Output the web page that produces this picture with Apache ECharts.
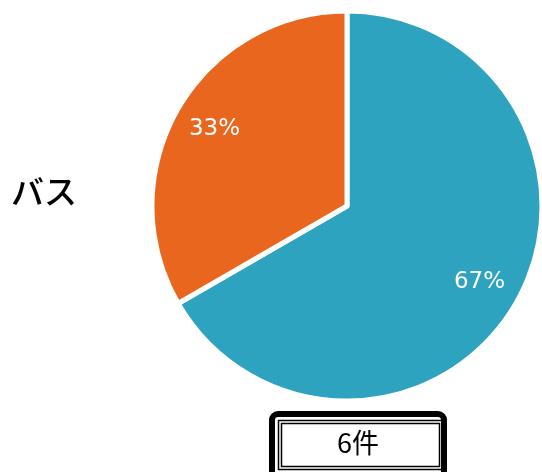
<!DOCTYPE html>
<html>
<head>
<meta charset="utf-8">
<script src="https://cdn.jsdelivr.net/npm/echarts@6/dist/echarts.min.js"></script>
<style>
  html, body { margin: 0; padding: 0; background: #ffffff; }
  #chart { width: 542px; height: 472px; }
</style>
</head>
<body>
<div id="chart"></div>
<script>
  // データ
  var categories = ['バス利用', 'その他'];
  var values = [4, 2];
  var colors = ['#2da3c0', '#e9661e'];
  var rowLabel = 'バス';
  var totalText = '6件';

  var myChart = echarts.init(document.getElementById('chart'));

  var pieData = categories.map(function (name, i) {
    return {name: name, value: values[i], itemStyle: {color: colors[i]}};
  });

  // ラベル用（色なし）
  var labelData = categories.map(function (name, i) {
    return {name: name, value: values[i]};
  });

  var option = {
    animation: false,
    backgroundColor: '#ffffff',
    title: {
      text: rowLabel,
      left: 6,
      top: 170,
      textStyle: {
        fontFamily: 'Noto Sans CJK JP',
        fontSize: 33,
        fontWeight: 500,
        color: '#000000'
      }
    },
    series: [{
      type: 'pie',
      center: [347, 206],
      radius: [0, 195],
      startAngle: 90,
      clockwise: true,
      label: {show: false},
      labelLine: {show: false},
      itemStyle: {borderColor: '#ffffff', borderWidth: 5},
      data: pieData
    }, {
      // ラベル位置用の透明リング
      type: 'pie',
      center: [347, 206],
      radius: [106, 194],
      startAngle: 90,
      clockwise: true,
      silent: true,
      itemStyle: {color: 'rgba(0,0,0,0)', borderWidth: 0},
      label: {
        show: true,
        position: 'inside',
        formatter: function (p) { return Math.round(p.percent) + '%'; },
        color: '#ffffff',
        fontFamily: 'DejaVu Sans',
        fontSize: 23
      },
      labelLine: {show: false},
      data: labelData
    }],
    graphic: [{
      type: 'rect',
      shape: {x: 272, y: 414, width: 172, height: 66, r: 6},
      style: {fill: '#ffffff', stroke: '#000000', lineWidth: 6}
    }, {
      type: 'rect',
      shape: {x: 278.5, y: 420.5, width: 164, height: 49},
      style: {fill: 'none', stroke: '#000000', lineWidth: 1.5}
    }, {
      type: 'rect',
      shape: {x: 281.5, y: 423.5, width: 158, height: 43},
      style: {fill: 'none', stroke: '#000000', lineWidth: 1.5}
    }, {
      type: 'text',
      x: 358,
      y: 443,
      style: {
        text: totalText,
        fill: '#000000',
        fontFamily: 'Noto Sans CJK JP',
        fontSize: 27,
        align: 'center',
        verticalAlign: 'middle'
      }
    }]
  };

  myChart.setOption(option);
</script>
</body>
</html>
